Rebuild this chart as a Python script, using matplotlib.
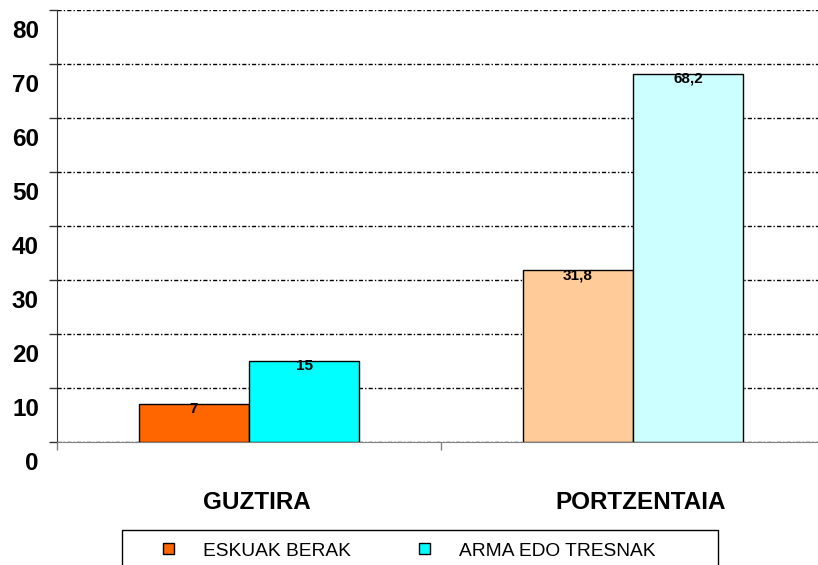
import matplotlib
matplotlib.use('Agg')
import matplotlib.pyplot as plt
import matplotlib.transforms as mtransforms
from matplotlib.patches import Rectangle
import numpy as np

categories = ['GUZTIRA', 'PORTZENTAIA']
series_names = ['ESKUAK BERAK', 'ARMA EDO TRESNAK']
eskuak = [7, 31.8]
arma = [15, 68.2]
eskuak_labels = ['7', '31,8']
arma_labels = ['15', '68,2']
y_ticks = [0, 10, 20, 30, 40, 50, 60, 70, 80]

plt.rcParams['font.family'] = ['Liberation Sans', 'DejaVu Sans']

W, H = 818, 565
fig = plt.figure(figsize=(W / 100, H / 100), dpi=100)
ax = fig.add_axes([57 / W, (H - 442) / H, 768 / W, 432 / H])

x = np.arange(len(categories))
bw = 0.287
# first category uses strong colours, second category lighter ones
c1 = ['#FF6600', '#FFCC99']
c2 = ['#00FFFF', '#CCFFFF']
b1 = ax.bar(x - bw / 2, eskuak, bw, color=c1, edgecolor='black', linewidth=1, zorder=3)
b2 = ax.bar(x + bw / 2, arma, bw, color=c2, edgecolor='black', linewidth=1, zorder=3)

for bars, labs in ((b1, eskuak_labels), (b2, arma_labels)):
    for rect, lab in zip(bars, labs):
        ax.annotate(lab, (rect.get_x() + rect.get_width() / 2, rect.get_height()),
                    xytext=(0, 1.5), textcoords='offset points', ha='center', va='top',
                    fontsize=11, fontweight='bold', zorder=4)

ax.set_xlim(-0.5, 1.5)
ax.set_ylim(0, 80)
ax.set_yticks(y_ticks)
ax.set_yticklabels([str(v) for v in y_ticks], fontsize=17.5, fontweight='bold')
ax.tick_params(axis='y', length=6, width=1, pad=7, color='#333333')
offset = mtransforms.ScaledTranslation(0, -0.19, fig.dpi_scale_trans)
for lab in ax.get_yticklabels():
    lab.set_transform(lab.get_transform() + offset)

ax.set_xticks([-0.5, 0.5, 1.5])
ax.set_xticklabels([])
ax.tick_params(axis='x', which='major', length=6, width=1, color='#808080')
ax.set_xticks(x, minor=True)
ax.set_xticklabels(categories, minor=True, fontsize=17.5, fontweight='bold')
ax.tick_params(axis='x', which='minor', length=0, pad=35)
xoff = mtransforms.ScaledTranslation(0.08, 0, fig.dpi_scale_trans)
for lab in ax.get_xticklabels(minor=True):
    lab.set_transform(lab.get_transform() + xoff)

ax.yaxis.grid(True, color='black', linestyle=(0, (3, 1.5, 1, 1.5)), linewidth=1, zorder=0)
ax.set_axisbelow(True)
for s in ('top', 'right'):
    ax.spines[s].set_visible(False)
ax.spines['left'].set_color('#333333')
ax.spines['bottom'].set_color('#808080')

# legend frame runs off the bottom of the figure
fig.patches.append(Rectangle((122 / W, -0.05), 596 / W, 1 - 530 / H + 0.05,
                             transform=fig.transFigure, facecolor='white',
                             edgecolor='black', linewidth=1, zorder=1))
handles = [b1[0], b2[0]]
leg = fig.legend(handles, series_names, loc='center left',
                 bbox_to_anchor=(163 / W, 1 - 551 / H),
                 ncol=2, fontsize=13.8, frameon=False, borderpad=0,
                 handlelength=0.55, handleheight=0.55, handletextpad=1.55,
                 borderaxespad=0, columnspacing=3.55)

fig.savefig('out.png', dpi=100)
